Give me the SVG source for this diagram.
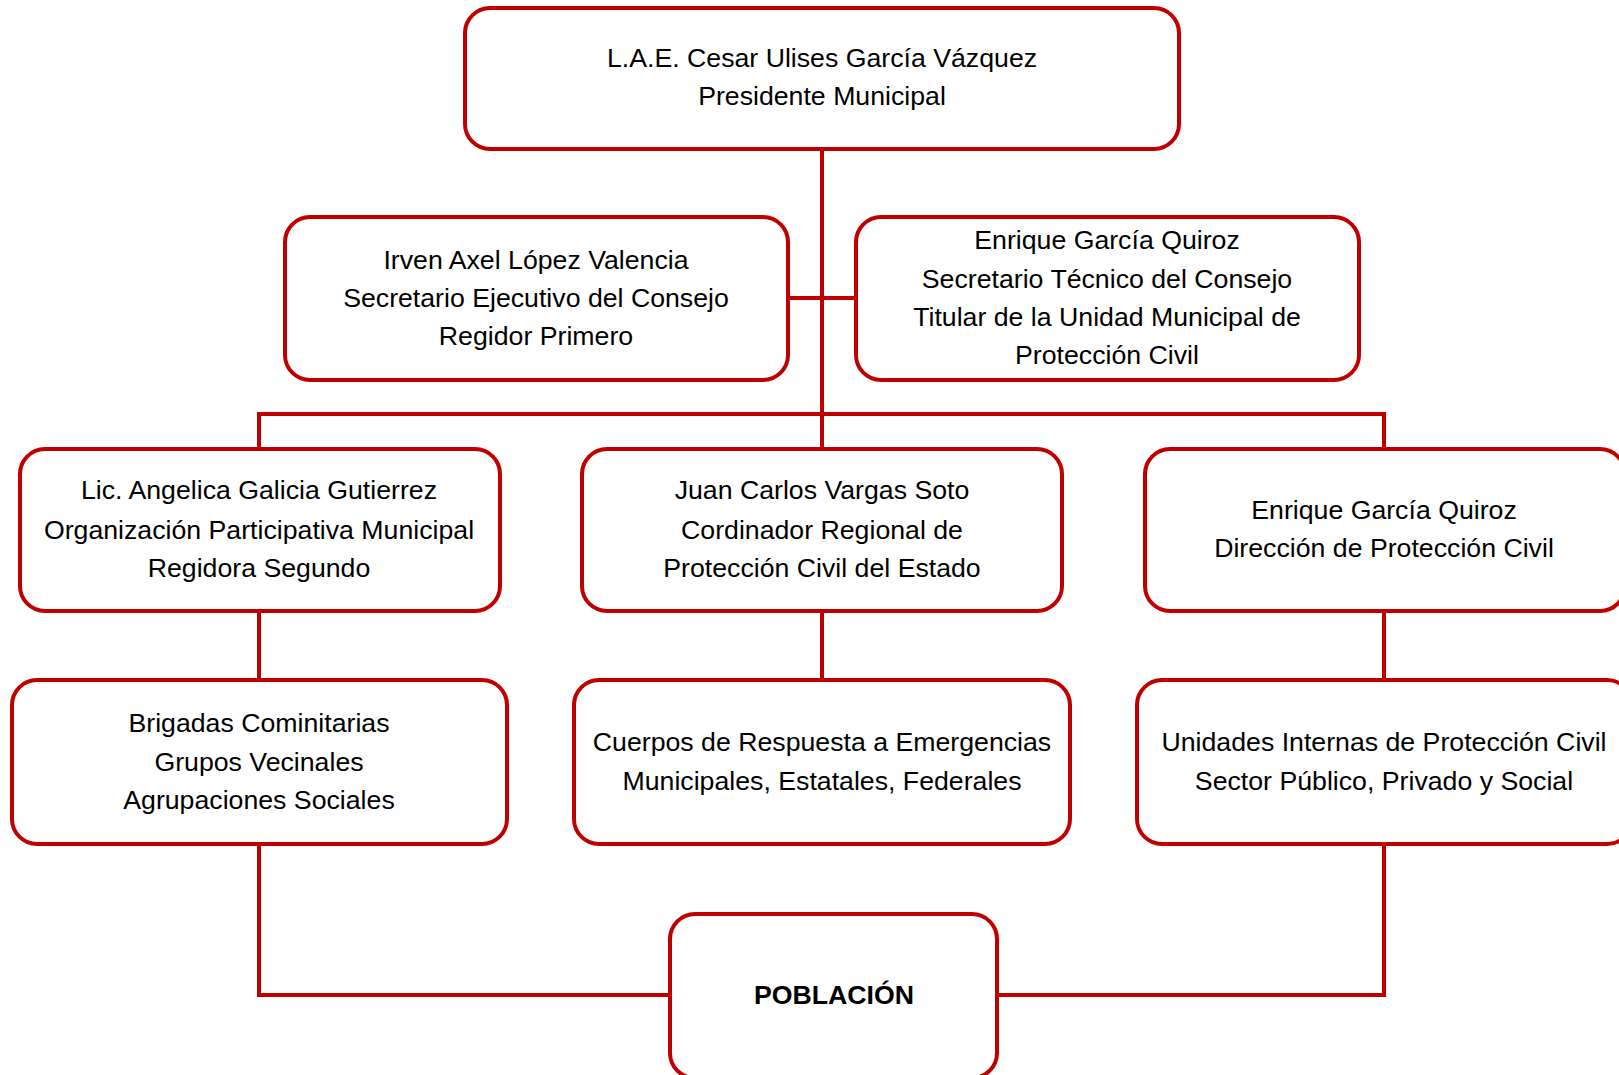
<svg xmlns="http://www.w3.org/2000/svg" width="1619" height="1075" viewBox="0 0 1619 1075">
<style>
.box{fill:#fff;stroke:#C00000;stroke-width:4}
.ln{fill:none;stroke:#C00000;stroke-width:4}
text{font-family:"Liberation Sans",Arial,sans-serif;font-size:26.7px;fill:#000;text-anchor:middle}
.b{font-weight:bold}
</style>
<rect width="1619" height="1075" fill="#fff"/>
<g id="connectors">
<path class="ln" d="M822 149V449"/>
<path class="ln" d="M788 298H856"/>
<path class="ln" d="M259 449V414H1384V449"/>
<path class="ln" d="M259 611V680M822 611V680M1384 611V680"/>
<path class="ln" d="M259 844V995H670M997 995H1384V844"/>
</g>
<g id="n-presidente">
<rect class="box" x="465" y="8" width="714" height="141" rx="25"/>
<text x="822" y="67">L.A.E. Cesar Ulises García Vázquez</text>
<text x="822" y="105">Presidente Municipal</text>
</g>
<g id="n-ejecutivo">
<rect class="box" x="285" y="217" width="503" height="163" rx="25"/>
<text x="536" y="269">Irven Axel López Valencia</text>
<text x="536" y="307">Secretario Ejecutivo del Consejo</text>
<text x="536" y="345">Regidor Primero</text>
</g>
<g id="n-tecnico">
<rect class="box" x="856" y="217" width="503" height="163" rx="25"/>
<text x="1107" y="249">Enrique García Quiroz</text>
<text x="1107" y="288">Secretario Técnico del Consejo</text>
<text x="1107" y="326">Titular de la Unidad Municipal de</text>
<text x="1107" y="364">Protección Civil</text>
</g>
<g id="n-organizacion">
<rect class="box" x="20" y="449" width="480" height="162" rx="25"/>
<text x="259" y="499">Lic. Angelica Galicia Gutierrez</text>
<text x="259" y="539">Organización Participativa Municipal</text>
<text x="259" y="577">Regidora Segundo</text>
</g>
<g id="n-regional">
<rect class="box" x="582" y="449" width="480" height="162" rx="25"/>
<text x="822" y="499">Juan Carlos Vargas Soto</text>
<text x="822" y="539">Cordinador Regional de</text>
<text x="822" y="577">Protección Civil del Estado</text>
</g>
<g id="n-direccion">
<rect class="box" x="1145" y="449" width="480" height="162" rx="25"/>
<text x="1384" y="519">Enrique García Quiroz</text>
<text x="1384" y="557">Dirección de Protección Civil</text>
</g>
<g id="n-brigadas">
<rect class="box" x="12" y="680" width="495" height="164" rx="25"/>
<text x="259" y="732">Brigadas Cominitarias</text>
<text x="259" y="771">Grupos Vecinales</text>
<text x="259" y="809">Agrupaciones Sociales</text>
</g>
<g id="n-cuerpos">
<rect class="box" x="574" y="680" width="496" height="164" rx="25"/>
<text x="822" y="751">Cuerpos de Respuesta a Emergencias</text>
<text x="822" y="790">Municipales, Estatales, Federales</text>
</g>
<g id="n-unidades">
<rect class="box" x="1137" y="680" width="495" height="164" rx="25"/>
<text x="1384" y="751">Unidades Internas de Protección Civil</text>
<text x="1384" y="790">Sector Público, Privado y Social</text>
</g>
<g id="n-poblacion">
<rect class="box" x="670" y="914" width="327" height="164" rx="25"/>
<text class="b" x="834" y="1004">POBLACIÓN</text>
</g>
</svg>
